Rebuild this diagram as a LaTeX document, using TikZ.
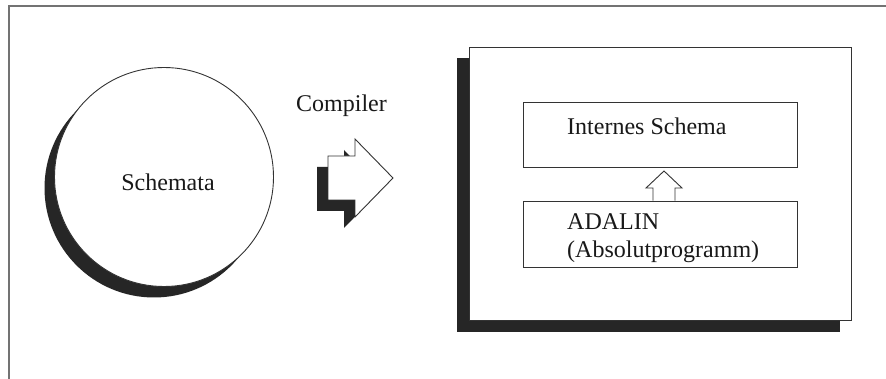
\documentclass[tikz,border=0pt]{standalone}
\usepackage{fontspec}
\setmainfont{Liberation Serif}
\begin{document}
\begin{tikzpicture}[x=1pt,y=-1pt,
  ln/.style={draw=black!80, line width=0.9pt},
  shad/.style={fill=black!85, draw=none},
  lbl/.style={font=\fontsize{24}{28}\selectfont, text=black!90, inner sep=0pt},
  boxn/.style={ln, fill=white, rectangle, inner sep=0pt}]
\useasboundingbox (0,0) rectangle (886,379);
\fill[white] (0,0) rectangle (886,379);
% frame
\draw[black!55, line width=1.2pt] (9,379) -- (9,6) -- (886,6);
% circle with shadow
\fill[shad] (154,188) circle (109.5);
\node[circle, ln, fill=white, minimum size=219pt, inner sep=0pt] (schemata) at (164,177) {};
\node[lbl] (schematxt) at (168,182) {Schemata};
% compiler label and arrow
\node[lbl, anchor=base] (compiler) at (341.5,112) {Compiler};
\fill[shad, shift={(-11,11)}] (328,156) -- (355,156) -- (355,139) -- (393,178) -- (355,217) -- (355,200) -- (328,200) -- cycle;
\draw[ln, fill=white] (328,156) -- (355,156) -- (355,139) -- (393,178) -- (355,217) -- (355,200) -- (328,200) -- cycle;
% system box with shadow
\fill[shad] (457,58) rectangle (840,332);
\node[boxn, minimum width=382pt, minimum height=273pt] (system) at (660,183.5) {};
% inner boxes
\node[boxn, minimum width=274pt, minimum height=65pt] (intern) at (660,134.5) {};
\node[boxn, minimum width=274pt, minimum height=66pt] (adalin) at (660,234) {};
\node[lbl, anchor=base west] (interntxt) at (567,135) {Internes Schema};
\node[lbl, anchor=base west] (adalintxt) at (567,230) {ADALIN};
\node[lbl, anchor=base west] (absolut) at (567,258) {(Absolutprogramm)};
% small up arrow from adalin to intern
\draw[ln, fill=white] (adalin.north -| 653,0) -- (653,188) -- (646,188) -- (664,171) -- (682,188) -- (675,188) -- (adalin.north -| 675,0);
\end{tikzpicture}
\end{document}
